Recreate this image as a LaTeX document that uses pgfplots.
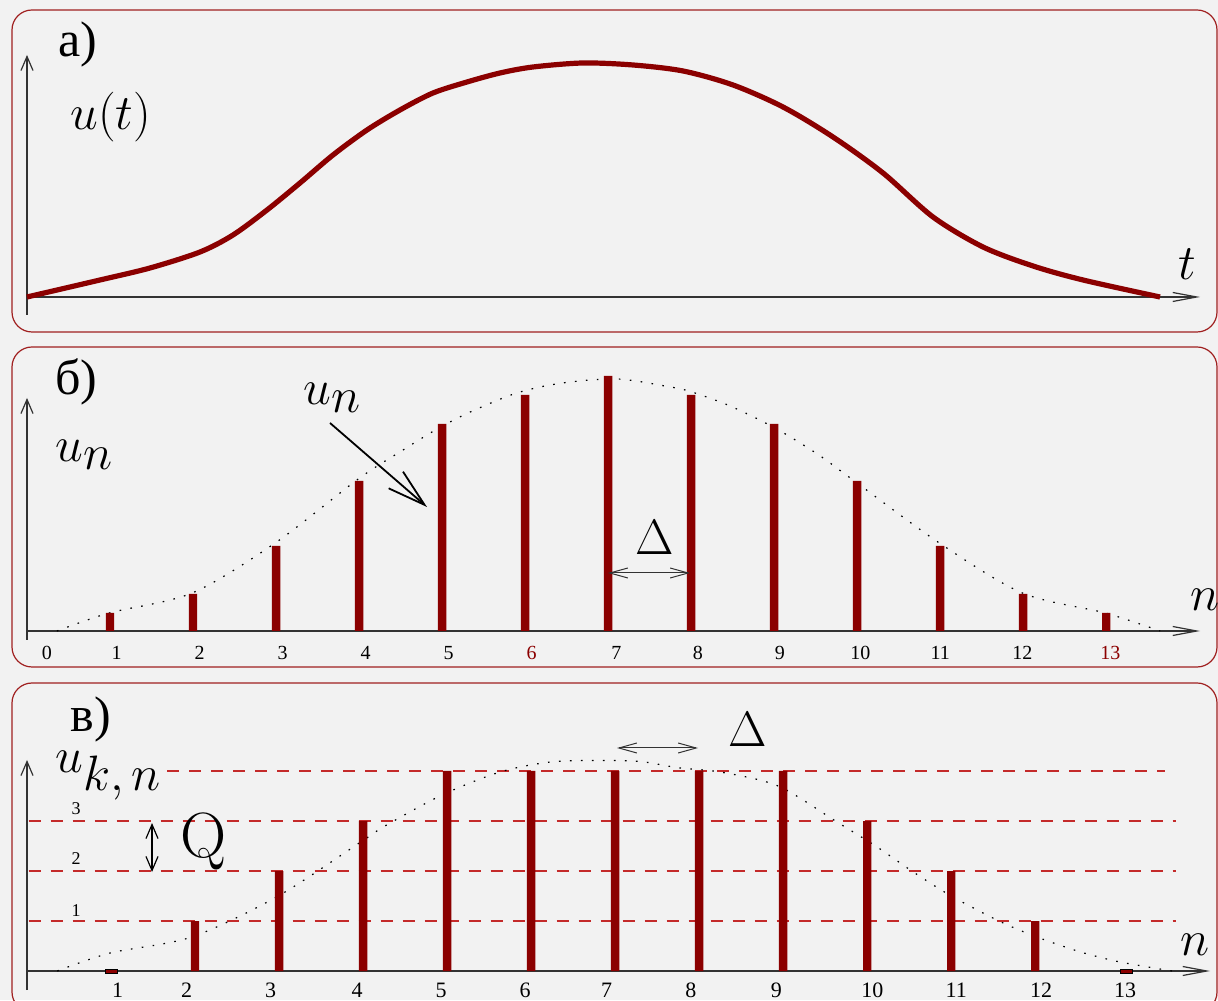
\documentclass[border=0pt]{standalone}
\usepackage[no-math]{fontspec}
\newfontfamily\cyr{Liberation Serif}
\usepackage{pgfplots}
\pgfplotsset{compat=1.18}
\usetikzlibrary{arrows.meta}
\definecolor{bg}{HTML}{F2F2F2}
\definecolor{barred}{HTML}{8B0000}
\definecolor{boxred}{HTML}{A02020}
\definecolor{qred}{HTML}{C42A2A}

\pgfplotsset{
  panel/.style={scale only axis, axis lines=middle, clip=false, anchor=south west,
    xtick=\empty, ytick=\empty, major tick length=0pt,
    x axis line style={draw=black!80, line width=0.6pt, -{Straight Barb[length=12pt,width=4.5pt]}},
    y axis line style={draw=black!80, line width=0.6pt, -{Straight Barb[length=7pt,width=6pt]}}},
  dotcurve/.style={smooth, draw=black, line width=0.6pt, dash pattern=on 0.8pt off 4.7pt},
}

\begin{document}
\begin{tikzpicture}
\useasboundingbox (0,0) rectangle (609pt,500pt);
\clip (0,0) rectangle (609pt,500pt);
\fill[bg] (0,0) rectangle (609pt,500pt);

% frames, in pixel units of the reference
\begin{scope}[x=0.5pt,y=-0.5pt,yshift=500pt]
\draw[boxred, line width=0.6pt, rounded corners=10pt] (12,10) rectangle (1217,332);
\draw[boxred, line width=0.6pt, rounded corners=10pt] (12,347) rectangle (1217,667);
\draw[boxred, line width=0.6pt, rounded corners=10pt] (12,683) rectangle (1217,1012);
\end{scope}

% a) continuous signal
\begin{axis}[panel, at={(13.5pt,342.5pt)}, width=586.5pt, height=130pt,
  xmin=0, xmax=1173, ymin=-18, ymax=242]
\addplot[smooth, barred, line width=2.6pt] coordinates {
  (0,0)(73,17)(123,29)(173,45)(206,62)(240,87)(273,114)(306,142)(340,167)
  (373,187)(406,204)(440,215)(473,224)(506,230)(556,234)(606,232)(656,226)
  (706,212)(756,190)(806,160)(856,124)(906,80)(956,50)(1006,31)(1056,17)(1133,0)};
\end{axis}

% b) samples
\begin{axis}[panel, at={(13.5pt,180pt)}, width=586.5pt, height=121pt,
  xmin=0, xmax=14.13, ymin=-9, ymax=233,
  xtick={0.24,1.08,2.08,3.08,4.08,5.08,6.08,7.10,8.08,9.07,10.04,11.0,11.99,13.05},
  xticklabels={0,1,2,3,4,5,\textcolor{barred}{6},7,8,9,10,11,12,\textcolor{barred}{13}},
  xticklabel style={anchor=center, yshift=-11pt, font=\cyr\fontsize{10}{12}\selectfont}]
\addplot[dotcurve] coordinates {
  (0.36,0)(0.99,18)(1.99,38)(2.99,88)(3.99,152)(4.53,181)(4.94,202)(5.34,219)
  (5.90,238)(6.45,248)(7.11,252)(7.75,244)(8.01,239)(8.47,225)(9.01,203)
  (9.52,177)(9.95,151)(10.99,88)(11.99,38)(12.99,18)(13.65,0)};
\addplot[ybar, bar width=4.2pt, fill=barred, draw=none] coordinates {
  (1,18)(2,37)(3,85)(4,150)(5,207)(6,236)(7,255)(8,236)(9,207)(10,150)(11,85)(12,37)(13,18)};
\end{axis}

% c) quantised samples
\begin{axis}[panel, at={(13.5pt,5pt)}, width=591.5pt, height=115pt,
  xmin=0, xmax=14.08, ymin=-0.38, ymax=4.22,
  xtick={1.08,1.90,2.90,3.93,4.93,5.93,6.90,7.90,8.92,10.06,11.06,12.07,13.07},
  xticklabels={1,2,3,4,5,6,7,8,9,10,11,12,13},
  xticklabel style={anchor=center, yshift=-9.5pt, font=\cyr\fontsize{11}{13}\selectfont},
  unbounded coords=jump]
% quantisation levels
\addplot[draw=qred, line width=1pt, dash pattern=on 6pt off 5pt] coordinates {
  (1.67,4)(13.55,4) (nan,nan)
  (0.02,3)(13.67,3) (nan,nan)
  (0.02,2)(13.67,2) (nan,nan)
  (0.02,1)(13.67,1)};
\addplot[dotcurve] coordinates {
  (0.36,0)(0.99,0.36)(1.96,0.68)(2.98,1.49)(3.99,2.60)(4.26,2.90)(4.94,3.52)
  (5.63,3.98)(6.23,4.18)(6.82,4.21)(7.30,4.19)(7.77,4.06)(8.25,3.98)(8.94,3.70)
  (9.64,2.98)(10.1,2.50)(10.54,1.99)(10.99,1.51)(11.58,0.99)(12.02,0.68)
  (12.54,0.38)(13.01,0.18)(13.63,0)};
\addplot[ybar, bar width=4.2pt, fill=barred, draw=none] coordinates {
  (2,1)(3,2)(4,3)(5,4)(6,4)(7,4)(8,4)(9,4)(10,3)(11,2)(12,1)};
\addplot[only marks, mark=square*, mark size=1pt,
  mark options={xscale=3, fill=barred, draw=none}] coordinates {(1,0)(13.08,0)};
\end{axis}

% labels and arrows, in pixel units of the reference
\begin{scope}[x=0.5pt,y=-0.5pt,yshift=500pt]
\node[anchor=base west, inner sep=0] at (58,57) {\cyr\fontsize{25}{30}\selectfont а)};
\node[anchor=base west, inner sep=0] at (70,130) {\fontsize{25}{30}\selectfont$u(t)$};
\node[anchor=base, inner sep=0] at (1187,280) {\fontsize{25}{30}\selectfont$t$};

\node[anchor=base west, inner sep=0] at (55,395) {\cyr\fontsize{25}{30}\selectfont б)};
\node[anchor=base west, inner sep=0] at (55,462) {\fontsize{25}{30}\selectfont$u_{\textstyle n}$};
\node[anchor=base west, inner sep=0] at (303,405) {\fontsize{25}{30}\selectfont$u_{\textstyle n}$};
\draw[black, line width=0.9pt, -{Straight Barb[length=19pt,width=11pt]}] (330,423) -- (427,507);
\node[anchor=base, inner sep=0] at (1205,611) {\fontsize{25}{30}\selectfont$n$};
\node[anchor=base, inner sep=0] at (655,555) {\fontsize{27}{30}\selectfont$\Delta$};
\draw[black!80, line width=0.5pt, {Straight Barb[length=9pt,width=5pt]}-{Straight Barb[length=9pt,width=5pt]}] (608,573) -- (690,573);

\node[anchor=base west, inner sep=0] at (70,732) {\cyr\fontsize{25}{30}\selectfont в)};
\node[anchor=base west, inner sep=0] at (55,773) {\fontsize{25}{30}\selectfont$u_{\textstyle k,n}$};
\node[inner sep=0, font=\cyr\fontsize{9}{11}\selectfont] at (76,809) {3};
\node[inner sep=0, font=\cyr\fontsize{9}{11}\selectfont] at (76,859) {2};
\node[inner sep=0, font=\cyr\fontsize{9}{11}\selectfont] at (76,911) {1};
\node[anchor=base, inner sep=0] at (204,857) {\fontsize{32}{36}\selectfont Q};
\draw[black, line width=0.6pt, {Straight Barb[length=7pt,width=6pt]}-{Straight Barb[length=7pt,width=6pt]}] (152,823) -- (152,872);
\node[anchor=base, inner sep=0] at (748,747) {\fontsize{27}{30}\selectfont$\Delta$};
\draw[black!80, line width=0.5pt, {Straight Barb[length=9pt,width=5pt]}-{Straight Barb[length=9pt,width=5pt]}] (617,748) -- (698,748);
\node[anchor=base, inner sep=0] at (1195,955) {\fontsize{25}{30}\selectfont$n$};
\end{scope}
\end{tikzpicture}
\end{document}
